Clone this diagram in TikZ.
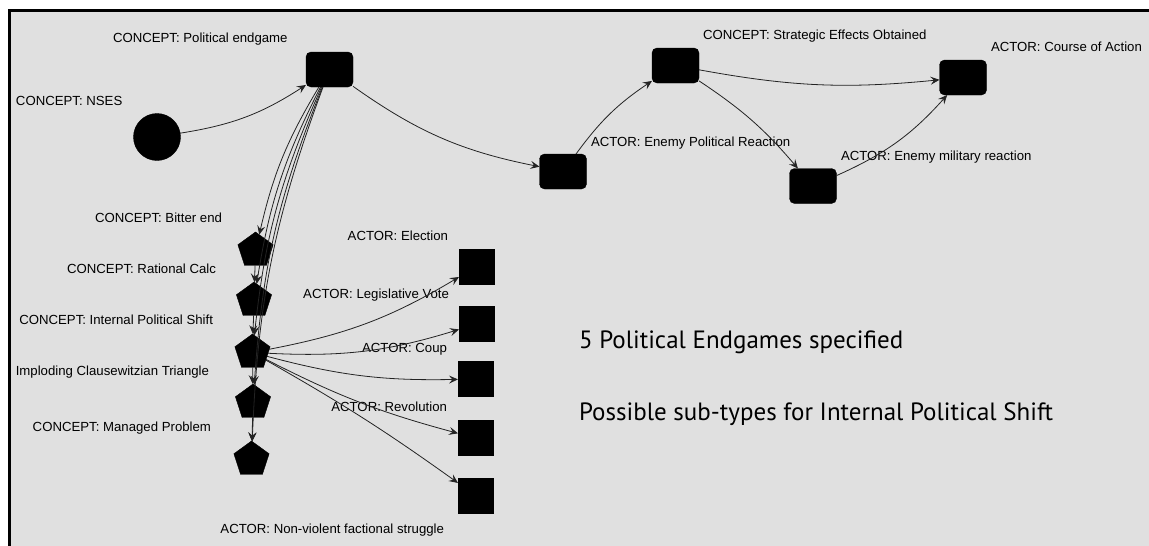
\documentclass[tikz,border=0pt]{standalone}
\usepackage{fontspec}
\setmainfont{Liberation Sans}
\newfontfamily\notefont{PT Sans}
\usetikzlibrary{shapes.geometric,arrows.meta}
\definecolor{canvas}{RGB}{224,224,224}
\definecolor{edgegray}{RGB}{35,35,35}
\begin{document}
\begin{tikzpicture}[x=1pt,y=-1pt,
  every node/.style={inner sep=0pt, outer sep=0pt},
  lbl/.style={font=\fontsize{13.2}{15}\selectfont, text=black},
  note/.style={font=\notefont\fontsize{25}{29}\selectfont, text=black, anchor=base west},
  blob/.style={circle, fill=black, draw=black, minimum size=47pt},
  rbox/.style={rectangle, rounded corners=5pt, fill=black, draw=black, minimum width=47pt, minimum height=35pt},
  penta/.style={regular polygon, regular polygon sides=5, fill=black, draw=black, minimum size=37pt},
  sq/.style={rectangle, fill=black, draw=black, minimum size=35pt},
  link/.style={draw=edgegray, line width=0.8pt, -{Stealth[length=9pt,width=8pt,inset=3.5pt]}},
]
\useasboundingbox (0,0) rectangle (1149,546);
% canvas and frame
\fill[white] (0,0) rectangle (1149,546);
\fill[canvas] (10,10.5) rectangle (1149,546);
\draw[line width=3pt] (9.5,546) -- (9.5,10.5) -- (1149,10.5);

% main chain
\node[blob] (nses) at (157,137) {};
\node[rbox] (pe) at (329.5,69.5) {};
\node[rbox] (epr) at (563,171.5) {};
\node[rbox] (seo) at (675.5,65.5) {};
\node[rbox] (emr) at (813,186) {};
\node[rbox] (coa) at (963,77.5) {};

% endgame concepts
\node[penta] (be) at (255.5,250.5) {};
\node[penta] (rc) at (254,300.5) {};
\node[penta] (ips) at (252.5,352.5) {};
\node[penta] (ict) at (253,402.5) {};
\node[penta] (mp) at (251.5,459.5) {};

% sub-types of internal political shift
\node[sq] (el) at (476.5,266.5) {};
\node[sq] (lv) at (476.5,324) {};
\node[sq] (cp) at (475.5,379) {};
\node[sq] (rv) at (475.5,438) {};
\node[sq] (nv) at (475.5,495.5) {};

% labels
\node[lbl, anchor=base west] (l-pe) at (113,42) {CONCEPT: Political endgame};
\node[lbl, anchor=base west] (l-nses) at (16,105) {CONCEPT: NSES};
\node[lbl, anchor=base west] (l-seo) at (703,39) {CONCEPT: Strategic Effects Obtained};
\node[lbl, anchor=base west] (l-coa) at (991,51) {ACTOR: Course of Action};
\node[lbl, anchor=base west] (l-epr) at (591,146) {ACTOR: Enemy Political Reaction};
\node[lbl, anchor=base west] (l-emr) at (841,160) {ACTOR: Enemy military reaction};
\node[lbl, anchor=base east] (l-be) at (222,222) {CONCEPT: Bitter end};
\node[lbl, anchor=base east] (l-rc) at (216,273) {CONCEPT: Rational Calc};
\node[lbl, anchor=base east] (l-ips) at (213,324) {CONCEPT: Internal Political Shift};
\node[lbl, anchor=base east] (l-ict) at (209,375) {Imploding Clausewitzian Triangle};
\node[lbl, anchor=base east] (l-mp) at (211,431) {CONCEPT: Managed Problem};
\node[lbl, anchor=base east] (l-el) at (448,240) {ACTOR: Election};
\node[lbl, anchor=base east] (l-lv) at (449,298) {ACTOR: Legislative Vote};
\node[lbl, anchor=base east] (l-cp) at (447,352) {ACTOR: Coup};
\node[lbl, anchor=base east] (l-rv) at (447,411) {ACTOR: Revolution};
\node[lbl, anchor=base east] (l-nv) at (444,533) {ACTOR: Non-violent factional struggle};

% notes
\node[note] (n1) at (579,348) {5 Political Endgames specified};
\node[note] (n2) at (579,420) {Possible sub-types for Internal Political Shift};

% connectors
\draw[link] (nses) to[bend right=12] (pe);
\draw[link] (pe) to[bend right=12] (epr);
\draw[link] (epr) to[bend left=10] (seo);
\draw[link] (seo) to[bend right=8] (coa);
\draw[link] (seo) to[bend left=8] (emr);
\draw[link] (emr) to[bend right=12] (coa);

\foreach \t in {be,rc,ips,ict,mp}
  \draw[link] (pe) to[bend right=9] (\t);

\draw[link] (be) -- (rc);
\draw[link] (rc) -- (ips);
\draw[link] (ips) -- (ict);
\draw[link] (ict) -- (mp);

\draw[link] (ips) to[bend right=10] (el);
\draw[link] (ips) to[bend right=10] (lv);
\draw[link] (ips) to[bend right=8] (cp);
\draw[link] (ips) to[bend right=6] (rv);
\draw[link] (ips) to[bend left=3] (nv);
\end{tikzpicture}
\end{document}
